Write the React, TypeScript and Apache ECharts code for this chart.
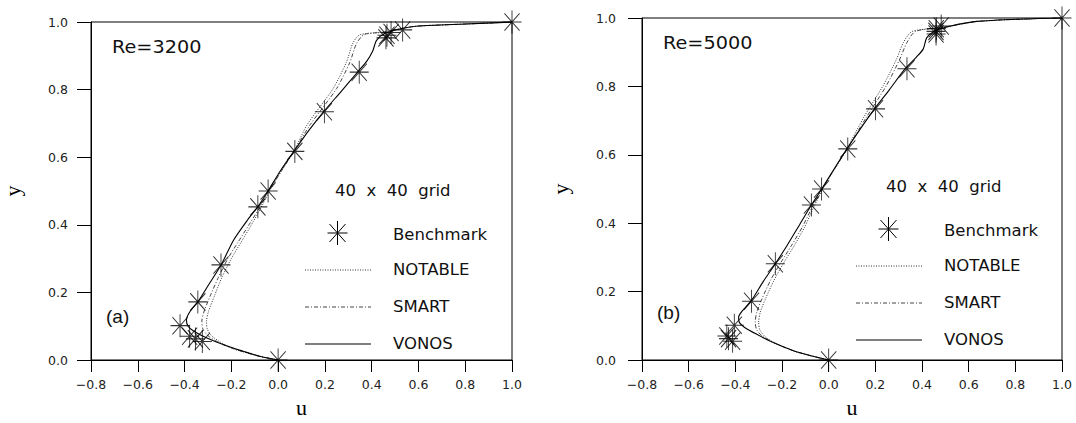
import { useEffect, useRef } from "react";
import * as echarts from "echarts";

// ---------- data ----------
const benchY = [1.0, 0.9766, 0.9688, 0.9609, 0.9531, 0.8516, 0.7344, 0.6172, 0.5, 0.4531, 0.2813, 0.1719, 0.1016, 0.0703, 0.0625, 0.0547, 0.0];
const benchU3200 = [1.0, 0.53236, 0.48296, 0.46547, 0.46101, 0.34682, 0.19791, 0.07156, -0.04272, -0.08664, -0.24427, -0.34323, -0.41933, -0.37827, -0.35344, -0.32407, 0.0];
const benchU5000 = [1.0, 0.48223, 0.4612, 0.45992, 0.46036, 0.33556, 0.20087, 0.08183, -0.03039, -0.07404, -0.22855, -0.3305, -0.40435, -0.43643, -0.42901, -0.41165, 0.0];

const vonos3200 = [[0, 0], [-0.079, 0.011], [-0.15, 0.026], [-0.221, 0.042], [-0.307, 0.066], [-0.36, 0.085], [-0.385, 0.1], [-0.392, 0.118], [-0.378, 0.142], [-0.343, 0.172], [-0.295, 0.225], [-0.244, 0.281], [-0.19, 0.355], [-0.13, 0.415], [-0.087, 0.453], [-0.043, 0.5], [0.01, 0.56], [0.068, 0.618], [0.13, 0.678], [0.195, 0.735], [0.27, 0.795], [0.34, 0.852], [0.38, 0.885], [0.405, 0.915], [0.42, 0.945], [0.455, 0.966], [0.53, 0.981], [0.6, 0.988], [0.8, 0.994], [1, 1]];
const smart3200 = [[0, 0], [-0.079, 0.011], [-0.19, 0.033], [-0.255, 0.052], [-0.3, 0.072], [-0.322, 0.092], [-0.326, 0.115], [-0.316, 0.145], [-0.29, 0.19], [-0.255, 0.245], [-0.215, 0.3], [-0.17, 0.35], [-0.12, 0.405], [-0.078, 0.452], [-0.04, 0.5], [0.015, 0.56], [0.068, 0.618], [0.138, 0.697], [0.25, 0.803], [0.307, 0.881], [0.335, 0.936], [0.368, 0.963], [0.45, 0.97], [0.53, 0.981], [0.6, 0.988], [0.8, 0.994], [1, 1]];
const notable3200 = [[0, 0], [-0.079, 0.011], [-0.19, 0.033], [-0.245, 0.052], [-0.285, 0.072], [-0.303, 0.092], [-0.306, 0.115], [-0.297, 0.145], [-0.272, 0.19], [-0.24, 0.245], [-0.2, 0.3], [-0.157, 0.35], [-0.11, 0.405], [-0.072, 0.452], [-0.037, 0.5], [0.015, 0.56], [0.068, 0.618], [0.125, 0.697], [0.235, 0.803], [0.292, 0.881], [0.32, 0.938], [0.349, 0.962], [0.45, 0.97], [0.53, 0.981], [0.6, 0.988], [0.8, 0.994], [1, 1]];

const vonos5000 = [[0, 0], [-0.08, 0.013], [-0.151, 0.027], [-0.237, 0.051], [-0.308, 0.075], [-0.36, 0.095], [-0.383, 0.11], [-0.386, 0.125], [-0.372, 0.142], [-0.33, 0.175], [-0.28, 0.23], [-0.229, 0.281], [-0.179, 0.334], [-0.125, 0.395], [-0.074, 0.453], [-0.03, 0.5], [0.02, 0.555], [0.077, 0.616], [0.135, 0.675], [0.197, 0.735], [0.26, 0.79], [0.327, 0.851], [0.375, 0.885], [0.405, 0.909], [0.42, 0.942], [0.455, 0.962], [0.519, 0.976], [0.634, 0.99], [0.876, 0.998], [1, 1]];
const smart5000 = [[0, 0], [-0.08, 0.013], [-0.151, 0.027], [-0.237, 0.051], [-0.285, 0.07], [-0.308, 0.088], [-0.315, 0.11], [-0.308, 0.14], [-0.285, 0.18], [-0.25, 0.232], [-0.205, 0.285], [-0.16, 0.334], [-0.112, 0.39], [-0.068, 0.45], [-0.028, 0.5], [0.022, 0.555], [0.08, 0.618], [0.16, 0.708], [0.248, 0.803], [0.305, 0.88], [0.335, 0.928], [0.37, 0.96], [0.45, 0.97], [0.519, 0.976], [0.634, 0.99], [0.876, 0.998], [1, 1]];
const notable5000 = [[0, 0], [-0.08, 0.013], [-0.151, 0.027], [-0.235, 0.051], [-0.275, 0.07], [-0.295, 0.088], [-0.3, 0.11], [-0.293, 0.14], [-0.27, 0.18], [-0.235, 0.232], [-0.192, 0.285], [-0.148, 0.334], [-0.102, 0.39], [-0.062, 0.45], [-0.025, 0.5], [0.022, 0.555], [0.077, 0.616], [0.149, 0.708], [0.234, 0.803], [0.291, 0.88], [0.32, 0.928], [0.356, 0.96], [0.45, 0.97], [0.519, 0.976], [0.634, 0.99], [0.876, 0.998], [1, 1]];

const panelTitles = ["Re=3200", "Re=5000"];
const panelTags = ["(a)", "(b)"];
const gridText = "40  x  40  grid";
const seriesNames = ["Benchmark", "NOTABLE", "SMART", "VONOS"];
const xAxisName = "u";
const yAxisName = "y";

// ---------- styling ----------
const STAR = "path://M10,0 L10,24 M0,12 L20,12 M2,3 L18,21 M2,21 L18,3";
const lineStyles = [
  { color: "#333", width: 1, type: [1, 1.5] },
  { color: "#444", width: 1, type: [4, 2, 1, 2] },
  { color: "#000", width: 1.1, type: "solid" },
];
const SANS = "DejaVu Sans";
const fmt = (v: number) => {
  const s = Math.abs(v).toFixed(1);
  return v < -1e-9 ? "\u2212" + s : s;
};

const panels = [
  { left: 91, top: 22, width: 421, height: 346, yNameGap: 68, labelMargin: 23, bench: benchU3200, curves: [notable3200, smart3200, vonos3200] },
  { left: 642, top: 18, width: 420, height: 348, yNameGap: 71, labelMargin: 26, bench: benchU5000, curves: [notable5000, smart5000, vonos5000] },
];

function buildOption() {
  const grid: any[] = [];
  const xAxis: any[] = [];
  const yAxis: any[] = [];
  const series: any[] = [];
  const graphic: any[] = [];

  panels.forEach((p, i) => {
    grid.push({ left: p.left, top: p.top, width: p.width, height: p.height, show: true, borderColor: "#000", borderWidth: 1, backgroundColor: "transparent" });
    xAxis.push({
      type: "value", gridIndex: i, min: -0.8, max: 1.0, interval: 0.2,
      axisLine: { show: true, onZero: false, lineStyle: { color: "#000", width: 1 } },
      axisTick: { show: true, length: 12, lineStyle: { color: "#000", width: 1 } },
      axisLabel: { margin: 18, fontSize: 12.5, fontFamily: SANS, color: "#222", formatter: fmt },
      splitLine: { show: false },
      name: xAxisName, nameLocation: "middle", nameGap: 36,
      nameTextStyle: { fontFamily: "Liberation Serif", fontSize: 22, color: "#000" },
    });
    yAxis.push({
      type: "value", gridIndex: i, min: 0, max: 1.0, interval: 0.2,
      axisLine: { show: true, onZero: false, lineStyle: { color: "#000", width: 1 } },
      axisTick: { show: true, length: 14, lineStyle: { color: "#000", width: 1 } },
      axisLabel: { margin: p.labelMargin, fontSize: 12.5, fontFamily: SANS, color: "#222", formatter: fmt },
      splitLine: { show: false },
      name: yAxisName, nameLocation: "middle", nameGap: p.yNameGap,
      nameTextStyle: { fontFamily: "Liberation Serif", fontSize: 22, color: "#000" },
    });
    p.curves.forEach((c, k) => {
      series.push({
        type: "line", name: seriesNames[k + 1], xAxisIndex: i, yAxisIndex: i,
        data: c, showSymbol: false, symbol: "none", smooth: 0.25, silent: true,
        lineStyle: lineStyles[k], z: 3,
      });
    });
    series.push({
      type: "scatter", name: seriesNames[0], xAxisIndex: i, yAxisIndex: i,
      data: p.bench.map((u, k) => [u, benchY[k]]),
      symbol: STAR, symbolSize: [19, 23], silent: true,
      itemStyle: { color: "rgba(0,0,0,0)", borderColor: "#000", borderWidth: 1 }, z: 5,
    });

    const L = p.left, T = p.top;
    graphic.push({ type: "text", x: L + 21, y: T + 25, scaleX: 1.1, style: { text: panelTitles[i], fontSize: 17.5, fontFamily: SANS, fill: "#111", verticalAlign: "middle" } });
    graphic.push({ type: "text", x: L + 15, y: T + 294, style: { text: panelTags[i], fontSize: 19, fontFamily: "Liberation Sans", fill: "#111", verticalAlign: "middle" } });
    graphic.push({ type: "text", x: L + 244, y: T + 168, style: { text: gridText, fontSize: 16.5, fontFamily: SANS, fill: "#111", verticalAlign: "middle" } });
    // legend star
    const cx = L + 246.5, cy = T + 211;
    const starSegs = [[0, -12, 0, 12], [-10, 0, 10, 0], [-8, -9, 8, 9], [-8, 9, 8, -9]];
    starSegs.forEach((s) => graphic.push({ type: "line", shape: { x1: cx + s[0], y1: cy + s[1], x2: cx + s[2], y2: cy + s[3] }, style: { stroke: "#000", lineWidth: 1 } }));
    graphic.push({ type: "text", x: L + 302, y: T + 212, style: { text: seriesNames[0], fontSize: 16.5, fontFamily: SANS, fill: "#111", verticalAlign: "middle" } });
    const rowsY = [247, 284, 321];
    rowsY.forEach((ry, k) => {
      const ls = lineStyles[k];
      graphic.push({ type: "line", shape: { x1: L + 214, y1: T + ry + 1, x2: L + 280, y2: T + ry + 1 }, style: { stroke: ls.color, lineWidth: ls.width, lineDash: Array.isArray(ls.type) ? ls.type : null } });
      graphic.push({ type: "text", x: L + 302, y: T + ry, style: { text: seriesNames[k + 1], fontSize: 16.5, fontFamily: SANS, fill: "#111", verticalAlign: "middle" } });
    });
  });

  return { animation: false, backgroundColor: "#fff", grid, xAxis, yAxis, series, graphic };
}

export default function App() {
  const ref = useRef<HTMLDivElement>(null);
  useEffect(() => {
    if (!ref.current) return;
    const chart = echarts.init(ref.current, null, { renderer: "svg" });
    chart.setOption(buildOption() as any);
    return () => chart.dispose();
  }, []);
  return <div ref={ref} style={{ position: "absolute", left: 0, top: 0, width: 1076, height: 423, background: "#fff" }} />;
}
